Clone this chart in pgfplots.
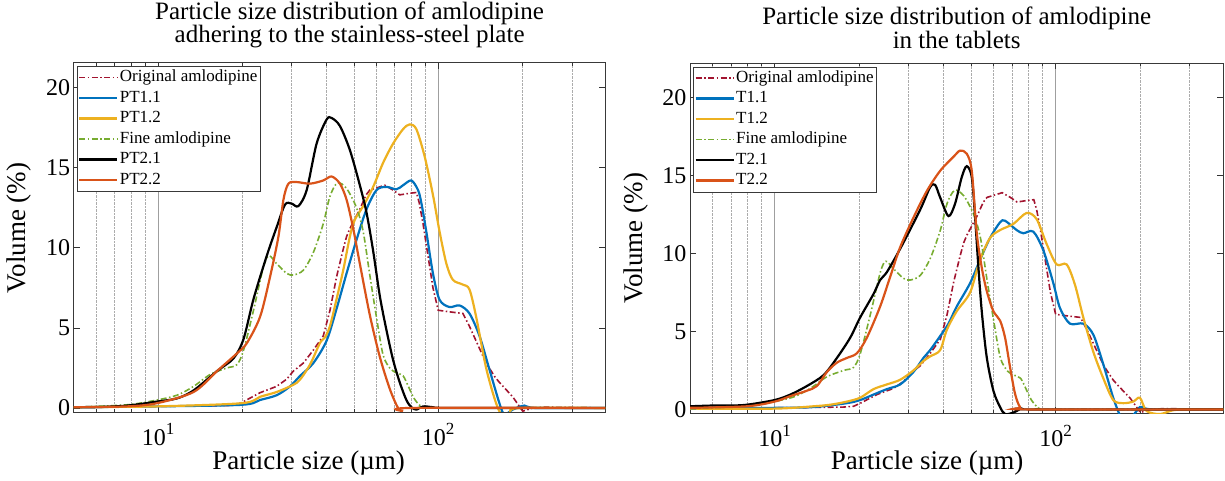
\documentclass[border=0pt]{standalone}
\usepackage{fontspec}
\setmainfont{Liberation Serif}
\usepackage{pgfplots}
\usepackage{pgfplotstable}
\pgfplotsset{compat=1.18}

\definecolor{mblue}{rgb}{0,0.447,0.741}
\definecolor{morange}{rgb}{0.85,0.325,0.098}
\definecolor{myellow}{rgb}{0.929,0.694,0.125}
\definecolor{mgreen}{rgb}{0.466,0.674,0.188}
\definecolor{mred}{rgb}{0.635,0.078,0.184}

% shared reference curves
\pgfplotstableread{
x y
5 0.05
10 0.1
17.6 0.15
19.1 0.2
20.2 0.4
23.1 0.95
26.5 1.35
28.8 1.8
30.4 2.3
33.0 2.8
35.8 3.6
38.9 4.5
41.1 6.1
43.4 8.2
45.8 9.9
47.1 10.7
48.4 11.2
52.5 12.4
55.3 13.3
57.0 13.6
61.9 13.8
64.5 13.9
69.0 13.6
72.9 13.3
79.1 13.4
83.6 13.45
85.6 12.8
88.3 11.5
95.8 7.5
100.0 6.1
109.8 6.0
122.5 5.9
129.3 5.1
148.3 2.8
160 1.9
165.4 1.6
184.5 0.7
200.3 -0.2
217.4 0.0
242.5 0.05
395 0
}\origdata
\pgfplotstableread{
x y
5 0.05
7.76 0.2
9.92 0.5
11.69 0.8
13.40 1.35
15.37 2.1
17.62 2.5
19.11 2.7
20.19 3.6
21.92 6.1
23.78 8.8
24.9 9.5
26.53 9.0
28.80 8.4
30.42 8.3
33.01 8.6
35.83 9.7
38.89 11.5
41.07 13.2
43.7 14.05
47.09 13.7
51.1 12.5
54.0 11.0
57.0 8.3
60.3 5.6
63.6 3.3
67.5 2.45
71.0 2.2
75.0 2.0
78.5 1.3
82.0 0.6
87.0 0.1
95 0.0
395 0.0
}\finedata

% stainless-steel plate
\pgfplotstableread{
x y
5 0.05
9.92 0.1
19.92 0.2
23.14 0.5
26.53 0.8
29.60 1.35
32.12 2.0
35.83 2.8
39.97 4.2
43.39 6.2
47.09 8.4
51.12 10.5
55.48 12.4
60.25 13.6
65.3 13.8
70.94 13.65
74.93 13.9
80.22 14.2
84.73 13.6
87.07 12.8
90.71 11.0
95.78 8.4
101.16 6.75
109.8 6.3
119.21 6.4
129.3 5.9
140.4 4.5
152.4 2.4
165.4 0.3
172.3 -0.4
184.5 -0.1
203.0 0.15
223.4 0.0
395 0
}\ptaa
\pgfplotstableread{
x y
5 0.05
9.92 0.1
19.92 0.3
23.14 0.7
26.53 1.0
30.42 1.45
32.12 1.77
34.86 2.7
37.84 4.05
39.4 4.4
41.07 5.1
43.39 6.8
45.82 8.6
48.39 10.7
50.4 11.75
53.99 12.6
58.60 13.8
63.59 15.3
69.03 16.5
74.93 17.4
79.13 17.7
83.58 17.4
89.46 15.7
95.78 13.3
101.16 11.0
107 9.0
112.83 8.0
122.5 7.7
129.3 7.4
136.6 5.7
148.3 2.5
160.9 0.3
170.0 -0.5
179.6 -0.3
194.9 0.0
395 0
}\ptab
\pgfplotstableread{
x y
5 0.05
5.9 0.05
7.76 0.15
9.92 0.4
11.69 0.6
13.40 1.1
16.23 2.3
18.60 3.1
20.19 4.3
21.92 6.8
24.44 9.5
26.53 11.3
28.41 12.7
30.01 12.75
31.69 12.6
33.93 13.6
36.82 16.5
39.97 18.0
41.64 18.1
44.59 17.6
48.39 16.1
52.53 13.9
55.48 12.2
58.60 9.8
61.88 7.0
65.30 4.9
69.03 3.0
72.91 1.6
77.0 0.5
80.2 0.05
83.58 -0.1
88.27 0.1
95.78 0.05
110 0.0
395 0.0
}\ptba
\pgfplotstableread{
x y
5 0.05
7.76 0.1
9.92 0.3
13.40 1.0
16.23 2.3
19.11 3.4
20.75 4.05
23.14 5.7
25.12 8.2
26.90 10.7
28.03 13.0
29.20 14.0
31.26 14.1
34.86 14.0
38.89 14.2
41.64 14.45
44.59 14.0
47.09 13.0
49.74 11.2
52.53 9.0
57.02 5.8
61.88 3.2
67.16 1.2
71.9 0.0
74.93 -0.2
79.13 0.0
395 0.0
}\ptbb

% tablets
\pgfplotstableread{
x y
5 0.05
10 0.1
13.76 0.15
18.07 0.4
20.16 0.6
22.48 0.95
25.07 1.3
27.97 1.6
31.19 2.4
33.85 3.3
35.75 3.8
38.81 4.7
41.55 5.5
44.47 6.6
49.61 8.1
53.83 9.6
58.43 11.0
63.41 12.0
66.07 12.1
72.69 11.5
76.75 11.3
83.28 11.4
90.41 10.2
98.10 8.1
103.6 6.5
112.4 5.5
125.4 5.5
136.1 4.8
147.7 2.9
160.3 0.74
171.6 -0.6
180 -0.8
194.1 -0.1
199.4 0.15
204.9 0.15
222.5 0.0
395 0
}\tbaa
\pgfplotstableread{
x y
5 0.05
10 0.05
13.76 0.2
15.78 0.3
18.07 0.5
20.16 0.75
22.48 1.3
25.07 1.6
27.97 1.9
31.19 2.5
33.85 3.1
35.75 3.4
38.81 3.8
40.99 5.1
44.47 6.3
49.61 7.5
53.83 9.6
58.43 11.0
63.41 11.5
70.72 11.9
78.86 12.6
85.59 12.2
92.90 10.6
100.8 9.3
109.4 9.3
117.1 8.0
125.4 5.9
136.1 3.7
147.7 2.0
160.3 0.6
174.0 0.4
188.8 0.5
199.4 0.75
210.6 -0.1
234.9 -0.3
261.9 -0.05
300 0
395 0
}\tbab
\pgfplotstableread{
x y
5 0.2
6.07 0.25
6.96 0.25
7.98 0.3
10.0 0.6
11.37 0.95
13.03 1.5
14.94 2.2
16.66 3.3
18.58 4.6
20.16 5.9
22.48 7.4
23.74 8.3
25.07 8.8
27.97 10.3
32.94 12.8
35.75 14.25
37.25 14.4
38.81 13.6
41.55 12.4
43.87 13.2
46.33 14.9
48.27 15.6
50.29 14.9
51.68 12.3
53.11 9.1
54.58 6.3
56.85 3.35
60.04 1.2
63.41 0.15
66.07 -0.3
70.72 -0.2
75.70 0.05
80 0.0
395 0
}\tbba
\pgfplotstableread{
x y
5 0.1
7.98 0.2
10.0 0.5
11.37 0.85
13.03 1.2
14.14 1.5
15.35 2.4
16.66 3.0
18.07 3.3
19.62 3.6
21.29 4.6
23.74 6.6
25.77 8.5
27.97 10.4
31.19 12.3
34.79 14.0
38.81 15.3
43.29 16.2
45.71 16.6
48.27 16.4
50.29 15.3
52.40 11.3
54.58 9.1
56.85 7.6
60.04 6.3
63.41 5.7
66.07 4.6
68.83 2.7
71.71 1.0
74.68 0.15
78.86 0.0
395 0
}\tbbb

\begin{document}
\begin{tikzpicture}
\useasboundingbox (0pt,0pt) rectangle (1225pt,481pt);
\begin{axis}[
  scale only axis, anchor=south west,
  at={(73.7pt,69pt)}, width=531.6pt, height=349.3pt,
  xmode=log, xmin=5, xmax=395,
  ymin=-0.25, ymax=21.55,
  xtick={10,100},
  xticklabels={{10\raisebox{0.45em}{\fontsize{17}{17}\selectfont 1}},{10\raisebox{0.45em}{\fontsize{17}{17}\selectfont 2}}},
  minor xtick={5,6,7,8,9,20,30,40,50,60,70,80,90,200,300},
  xmajorgrids, xminorgrids,
  major grid style={gray!75, line width=0.7pt},
  minor grid style={gray!65, densely dotted, line width=0.7pt},
  ytick={0,5,10,15,20},
  tick align=inside,
  major tick length=6pt, minor tick length=3pt,
  tick style={gray!40!black, line width=0.7pt},
  axis line style={gray!45!black, line width=0.8pt},
  tick label style={font=\fontsize{24}{24}\selectfont},
  xticklabel style={yshift=-8pt},
  /pgf/number format/assume math mode=true,
  xlabel={Particle size (µm)}, ylabel={Volume (\%)},
  xlabel style={font=\fontsize{27}{27}\selectfont, at={(axis description cs:0.442,-0.146)}, anchor=center},
  ylabel style={font=\fontsize{27}{27}\selectfont, at={(axis description cs:-0.1035,0.527)}, anchor=center},
  title={Particle size distribution of amlodipine\\adhering to the stainless-steel plate},
  title style={font=\fontsize{25}{22}\selectfont, align=center, anchor=south, inner sep=0pt,
    at={(axis description cs:0.519,1.024)}},
  legend style={at={(0,1)}, anchor=north west, xshift=3.3pt, yshift=-3.3pt,
    draw=gray!45!black, fill=white, font=\fontsize{17}{17}\selectfont,
    inner xsep=1pt, inner ysep=1pt, row sep=0pt,
    nodes={inner sep=1.5pt, text height=13pt, text depth=4.5pt}},
  legend cell align=left,
  legend image code/.code={\draw[#1] (0pt,0pt) -- (38pt,0pt);},
]
\addplot[color=mred, line width=1.6pt, dash pattern=on 6pt off 2.5pt on 1.5pt off 2.5pt] table {\origdata};
\addlegendentry{Original amlodipine}
\addplot[color=mblue, line width=2.2pt, smooth] table {\ptaa};
\addlegendentry{PT1.1}
\addplot[color=myellow, line width=2.2pt, smooth] table {\ptab};
\addlegendentry{PT1.2}
\addplot[color=mgreen, line width=1.6pt, dash pattern=on 6pt off 2.5pt on 1.5pt off 2.5pt, smooth] table {\finedata};
\addlegendentry{Fine amlodipine}
\addplot[color=black, line width=2.2pt, smooth] table {\ptba};
\addlegendentry{PT2.1}
\addplot[color=morange, line width=2.2pt, smooth] table {\ptbb};
\addlegendentry{PT2.2}
\end{axis}
\begin{axis}[
  scale only axis, anchor=south west,
  at={(690pt,67.7pt)}, width=533.3pt, height=350pt,
  xmode=log, xmin=5, xmax=395,
  ymin=-0.25, ymax=22.2,
  xtick={10,100},
  xticklabels={{10\raisebox{0.45em}{\fontsize{17}{17}\selectfont 1}},{10\raisebox{0.45em}{\fontsize{17}{17}\selectfont 2}}},
  minor xtick={5,6,7,8,9,20,30,40,50,60,70,80,90,200,300},
  xmajorgrids, xminorgrids,
  major grid style={gray!75, line width=0.7pt},
  minor grid style={gray!65, densely dotted, line width=0.7pt},
  ytick={0,5,10,15,20},
  tick align=inside,
  major tick length=6pt, minor tick length=3pt,
  tick style={gray!40!black, line width=0.7pt},
  axis line style={gray!45!black, line width=0.8pt},
  tick label style={font=\fontsize{24}{24}\selectfont},
  xticklabel style={yshift=-8pt},
  /pgf/number format/assume math mode=true,
  xlabel={Particle size (µm)}, ylabel={Volume (\%)},
  xlabel style={font=\fontsize{27}{27}\selectfont, at={(axis description cs:0.4445,-0.142)}, anchor=center},
  ylabel style={font=\fontsize{27}{27}\selectfont, at={(axis description cs:-0.1013,0.5)}, anchor=center},
  title={Particle size distribution of amlodipine\\in the tablets},
  title style={font=\fontsize{25}{22}\selectfont, align=center, anchor=south, inner sep=0pt,
    at={(axis description cs:0.5,1.024)}},
  legend style={at={(0,1)}, anchor=north west, xshift=3.3pt, yshift=-3.3pt,
    draw=gray!45!black, fill=white, font=\fontsize{17}{17}\selectfont,
    inner xsep=1pt, inner ysep=1pt, row sep=0pt,
    nodes={inner sep=1.5pt, text height=13pt, text depth=4.5pt}},
  legend cell align=left,
  legend image code/.code={\draw[#1] (0pt,0pt) -- (38pt,0pt);},
]
\addplot[color=mred, line width=1.6pt, dash pattern=on 6pt off 2.5pt on 1.5pt off 2.5pt] table {\origdata};
\addlegendentry{Original amlodipine}
\addplot[color=mblue, line width=2.2pt, smooth] table {\tbaa};
\addlegendentry{T1.1}
\addplot[color=myellow, line width=2.2pt, smooth] table {\tbab};
\addlegendentry{T1.2}
\addplot[color=mgreen, line width=1.6pt, dash pattern=on 6pt off 2.5pt on 1.5pt off 2.5pt, smooth] table {\finedata};
\addlegendentry{Fine amlodipine}
\addplot[color=black, line width=2.2pt, smooth] table {\tbba};
\addlegendentry{T2.1}
\addplot[color=morange, line width=2.2pt, smooth] table {\tbbb};
\addlegendentry{T2.2}
\end{axis}
\end{tikzpicture}
\end{document}
